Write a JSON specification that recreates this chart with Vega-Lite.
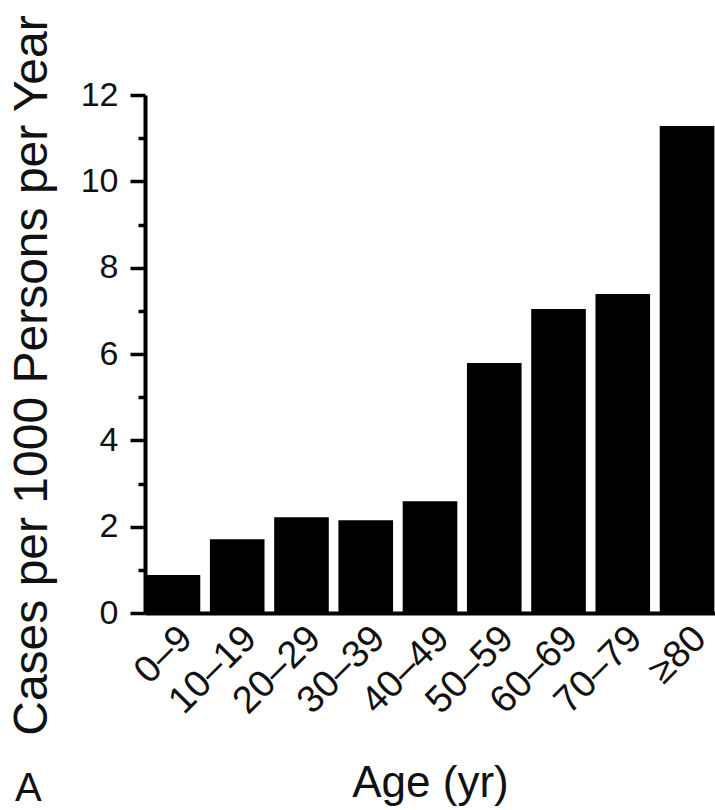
{
  "$schema": "https://vega.github.io/schema/vega-lite/v6.json",
  "autosize": "none",
  "width": 570,
  "height": 518,
  "padding": {"left": 145, "top": 95, "right": 0, "bottom": 197},
  "background": "white",
  "data": {
    "values": [
      {"age": "0–9", "rate": 0.88},
      {"age": "10–19", "rate": 1.71},
      {"age": "20–29", "rate": 2.22},
      {"age": "30–39", "rate": 2.15},
      {"age": "40–49", "rate": 2.59},
      {"age": "50–59", "rate": 5.79},
      {"age": "60–69", "rate": 7.04},
      {"age": "70–79", "rate": 7.39},
      {"age": "≥80", "rate": 11.28}
    ]
  },
  "title": {
    "text": "A",
    "orient": "bottom",
    "anchor": "start",
    "frame": "group",
    "dx": -130,
    "dy": -40,
    "font": "Liberation Sans",
    "fontSize": 40,
    "fontWeight": "normal",
    "color": "#111"
  },
  "mark": {"type": "bar", "color": "black"},
  "encoding": {
    "x": {
      "field": "age",
      "type": "nominal",
      "sort": null,
      "scale": {"paddingInner": 0.15, "paddingOuter": 0.01},
      "axis": {
        "title": "Age (yr)",
        "ticks": false,
        "domainColor": "black",
        "domainWidth": 4,
        "labelAngle": -45,
        "labelFont": "Liberation Sans",
        "labelFontSize": 38,
        "labelColor": "#111",
        "labelPadding": 6,
        "titleFont": "Liberation Sans",
        "titleFontSize": 44,
        "titleFontWeight": "normal",
        "titleColor": "#111",
        "titleBaseline": "alphabetic",
        "titleY": 183
      }
    },
    "y": {
      "field": "rate",
      "type": "quantitative",
      "scale": {"domain": [0, 12], "nice": false},
      "axis": {
        "title": "Cases per 1000 Persons per Year",
        "values": [0, 1, 2, 3, 4, 5, 6, 7, 8, 9, 10, 11, 12],
        "labelExpr": "datum.value % 2 ? '' : datum.label",
        "grid": false,
        "domainColor": "black",
        "domainWidth": 4,
        "tickColor": "black",
        "tickWidth": 3.5,
        "tickSize": {"condition": {"test": "datum.value % 2 == 1", "value": 7}, "value": 15},
        "labelFont": "Liberation Sans",
        "labelFontSize": 34,
        "labelColor": "#111",
        "labelPadding": 12,
        "titleFont": "Liberation Sans",
        "titleFontSize": 48,
        "titleFontWeight": "normal",
        "titleColor": "#111",
        "titleAngle": -90,
        "titleBaseline": "alphabetic",
        "titleAlign": "center",
        "titleX": -99,
        "titleY": 280
      }
    }
  },
  "config": {"view": {"stroke": null}}
}
